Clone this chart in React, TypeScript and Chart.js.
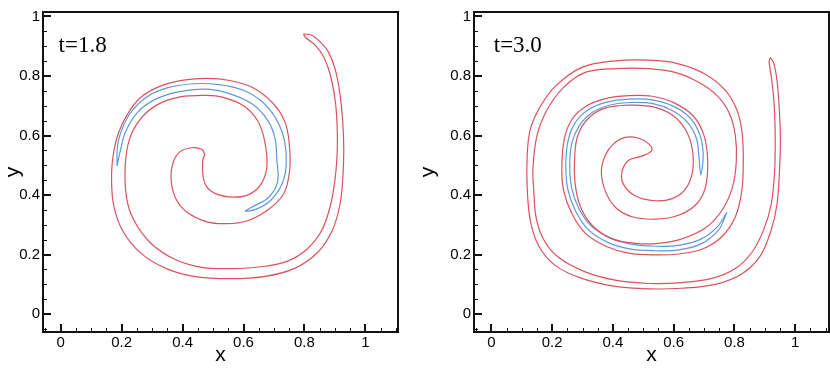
import React, { useEffect, useRef } from 'react';
import { Chart, registerables } from 'chart.js';

Chart.register(...registerables);

// ---------- data ----------
type Pt = [number, number];

const majorTicks = [0, 0.2, 0.4, 0.6, 0.8, 1];
const minorTicks = [-0.05, 0.05, 0.1, 0.15, 0.25, 0.3, 0.35, 0.45, 0.5, 0.55, 0.65, 0.7, 0.75, 0.85, 0.9, 0.95, 1.05, 1.1];

const panelTitles = ['t=1.8', 't=3.0'];

// t = 1.8, red interface contour (closed thin filament)
const red18: Pt[] = [
  [0.797, 0.941], [0.824, 0.937], [0.851, 0.915], [0.878, 0.882], [0.901, 0.822], [0.917, 0.736],
  [0.926, 0.64], [0.929, 0.55], [0.926, 0.46], [0.917, 0.37], [0.892, 0.283], [0.843, 0.207],
  [0.766, 0.153], [0.666, 0.126], [0.556, 0.119], [0.447, 0.125], [0.349, 0.152], [0.263, 0.205],
  [0.203, 0.281], [0.173, 0.37], [0.167, 0.47], [0.175, 0.55], [0.19, 0.61], [0.218, 0.67],
  [0.261, 0.727], [0.327, 0.766], [0.403, 0.786], [0.48, 0.792], [0.555, 0.785], [0.628, 0.762],
  [0.695, 0.71], [0.735, 0.648], [0.75, 0.575], [0.751, 0.479], [0.731, 0.403], [0.677, 0.348],
  [0.611, 0.313], [0.545, 0.304], [0.48, 0.31], [0.414, 0.343], [0.376, 0.392], [0.362, 0.458],
  [0.37, 0.512], [0.392, 0.546], [0.431, 0.559], [0.462, 0.554], [0.472, 0.537],
  [0.466, 0.515], [0.467, 0.465], [0.478, 0.43], [0.508, 0.405], [0.567, 0.393], [0.622, 0.404],
  [0.66, 0.441], [0.677, 0.501], [0.668, 0.588], [0.645, 0.652], [0.6, 0.7], [0.534, 0.728],
  [0.48, 0.735], [0.392, 0.73], [0.316, 0.703], [0.261, 0.654], [0.226, 0.588], [0.212, 0.5],
  [0.216, 0.392], [0.24, 0.316], [0.294, 0.24], [0.371, 0.186], [0.458, 0.158], [0.556, 0.153],
  [0.666, 0.16], [0.745, 0.178], [0.808, 0.218], [0.856, 0.28], [0.884, 0.36], [0.9, 0.45],
  [0.908, 0.566], [0.903, 0.7], [0.886, 0.8], [0.862, 0.866], [0.835, 0.904], [0.802, 0.931],
  [0.797, 0.941],
];

// t = 1.8, blue contour
const blue18: Pt[] = [
  [0.185, 0.498], [0.186, 0.56], [0.197, 0.61], [0.226, 0.672], [0.28, 0.728], [0.349, 0.76],
  [0.436, 0.774], [0.52, 0.771], [0.6, 0.752], [0.665, 0.71], [0.71, 0.65], [0.735, 0.58],
  [0.74, 0.501], [0.726, 0.436], [0.688, 0.381], [0.64, 0.352], [0.606, 0.346],
  [0.627, 0.359], [0.682, 0.392], [0.712, 0.446], [0.709, 0.523], [0.704, 0.588], [0.68, 0.65],
  [0.63, 0.705], [0.556, 0.74], [0.48, 0.756], [0.382, 0.746], [0.305, 0.719], [0.25, 0.675],
  [0.212, 0.61], [0.196, 0.55], [0.185, 0.498],
];

// t = 3.0, red interface contour
const red30: Pt[] = [
  [0.918, 0.862], [0.929, 0.844], [0.94, 0.784], [0.947, 0.697], [0.951, 0.588], [0.948, 0.479],
  [0.94, 0.37], [0.921, 0.283], [0.885, 0.196], [0.825, 0.136], [0.737, 0.1], [0.627, 0.087],
  [0.518, 0.085], [0.408, 0.093], [0.298, 0.12], [0.211, 0.163], [0.156, 0.229], [0.128, 0.316],
  [0.118, 0.425], [0.118, 0.534], [0.128, 0.62], [0.161, 0.697], [0.211, 0.766], [0.298, 0.829],
  [0.408, 0.851], [0.518, 0.853], [0.616, 0.841], [0.704, 0.806], [0.77, 0.752], [0.808, 0.686],
  [0.825, 0.61], [0.829, 0.512], [0.824, 0.414], [0.803, 0.327], [0.759, 0.261], [0.693, 0.218],
  [0.616, 0.202], [0.539, 0.199], [0.452, 0.205], [0.375, 0.229], [0.309, 0.272], [0.265, 0.338],
  [0.238, 0.414], [0.232, 0.49], [0.24, 0.588], [0.265, 0.654], [0.309, 0.697], [0.375, 0.724],
  [0.452, 0.734], [0.529, 0.732], [0.605, 0.708], [0.666, 0.664], [0.7, 0.599], [0.712, 0.512],
  [0.704, 0.425], [0.675, 0.37], [0.616, 0.332], [0.539, 0.319], [0.463, 0.327], [0.408, 0.359],
  [0.375, 0.414], [0.362, 0.479], [0.375, 0.534], [0.402, 0.572], [0.441, 0.594], [0.485, 0.591],
  [0.518, 0.572], [0.528, 0.55],
  [0.496, 0.531], [0.452, 0.517], [0.43, 0.479], [0.435, 0.436], [0.474, 0.397], [0.539, 0.381],
  [0.595, 0.388], [0.638, 0.419], [0.662, 0.479], [0.661, 0.556], [0.638, 0.621], [0.594, 0.67],
  [0.529, 0.697], [0.452, 0.702], [0.375, 0.692], [0.32, 0.659], [0.284, 0.599], [0.274, 0.523],
  [0.276, 0.436], [0.294, 0.359], [0.333, 0.297], [0.397, 0.253], [0.474, 0.238], [0.55, 0.238],
  [0.627, 0.253], [0.704, 0.289], [0.759, 0.349], [0.793, 0.425], [0.806, 0.512], [0.803, 0.599],
  [0.783, 0.675], [0.742, 0.735], [0.682, 0.779], [0.605, 0.812], [0.518, 0.825], [0.408, 0.825],
  [0.309, 0.812], [0.238, 0.762], [0.183, 0.686], [0.15, 0.599], [0.137, 0.49], [0.139, 0.425],
  [0.147, 0.327], [0.172, 0.251], [0.221, 0.191], [0.309, 0.142], [0.408, 0.114], [0.518, 0.103],
  [0.627, 0.106], [0.726, 0.12], [0.803, 0.153], [0.857, 0.207], [0.896, 0.283], [0.921, 0.37],
  [0.932, 0.479], [0.934, 0.588], [0.931, 0.697], [0.923, 0.784], [0.914, 0.85], [0.918, 0.862],
];

// t = 3.0, blue contour
const blue30: Pt[] = [
  [0.775, 0.342], [0.748, 0.283], [0.69, 0.236], [0.616, 0.216], [0.539, 0.213], [0.455, 0.219],
  [0.383, 0.241], [0.32, 0.283], [0.278, 0.345], [0.252, 0.418], [0.245, 0.501], [0.253, 0.585],
  [0.277, 0.645], [0.318, 0.686], [0.38, 0.712], [0.454, 0.722], [0.529, 0.72], [0.6, 0.698],
  [0.655, 0.658], [0.688, 0.597], [0.697, 0.53], [0.689, 0.468],
  [0.683, 0.53], [0.675, 0.59], [0.645, 0.645], [0.595, 0.684], [0.529, 0.708], [0.454, 0.711],
  [0.385, 0.701], [0.327, 0.674], [0.288, 0.63], [0.265, 0.575], [0.258, 0.501], [0.264, 0.425],
  [0.288, 0.355], [0.328, 0.297], [0.39, 0.257], [0.46, 0.235], [0.539, 0.228], [0.62, 0.232],
  [0.69, 0.252], [0.745, 0.295], [0.775, 0.342],
];

const RED = 'rgb(218, 82, 94)';
const BLUE = 'rgb(96, 152, 220)';

type PanelProps = {
  red: Pt[];
  blue: Pt[];
  title: string;
  titleX: number;
  titleY: number;
  xMin: number;
  xMax: number;
  yMin: number;
  yMax: number;
  yAxisWidth: number;
  padRight: number;
  left: number;
};

function Panel(p: PanelProps) {
  const ref = useRef<HTMLCanvasElement>(null);

  useEffect(() => {
    if (!ref.current) return;
    const framePlugin = {
      id: 'tecFrame',
      afterDatasetsDraw(chart: any) {
        const { ctx, chartArea: a, scales } = chart;
        const xs = scales.x;
        const ys = scales.y;
        ctx.save();
        ctx.strokeStyle = '#111';
        // minor ticks (inward)
        ctx.lineWidth = 1;
        ctx.beginPath();
        for (const v of minorTicks) {
          if (v > xs.min && v < xs.max) {
            const px = Math.round(xs.getPixelForValue(v)) + 0.5;
            ctx.moveTo(px, a.bottom);
            ctx.lineTo(px, a.bottom - 4);
          }
          if (v > ys.min && v < ys.max) {
            const py = Math.round(ys.getPixelForValue(v)) + 0.5;
            ctx.moveTo(a.left, py);
            ctx.lineTo(a.left + 4, py);
          }
        }
        ctx.stroke();
        // major ticks
        ctx.lineWidth = 2;
        ctx.beginPath();
        for (const v of majorTicks) {
          const px = Math.round(xs.getPixelForValue(v));
          ctx.moveTo(px, a.bottom);
          ctx.lineTo(px, a.bottom - 8);
          const py = Math.round(ys.getPixelForValue(v));
          ctx.moveTo(a.left, py);
          ctx.lineTo(a.left + 8, py);
        }
        ctx.stroke();
        // frame
        ctx.lineWidth = 2;
        ctx.strokeRect(a.left, a.top, a.right - a.left, a.bottom - a.top);
        // time label
        ctx.fillStyle = '#000';
        ctx.font = "23px 'Liberation Serif'";
        ctx.textBaseline = 'alphabetic';
        ctx.textAlign = 'left';
        ctx.fillText(p.title, xs.getPixelForValue(p.titleX), ys.getPixelForValue(p.titleY));
        ctx.restore();
      },
    };

    const mk = (pts: Pt[], color: string) => ({
      data: pts.map(([x, y]) => ({ x, y })),
      showLine: true,
      borderColor: color,
      backgroundColor: color,
      borderWidth: 1.2,
      pointRadius: 0,
      tension: 0.35,
      fill: false,
    });

    const tickFont = { family: "'Liberation Sans', Arial, sans-serif", size: 15 };
    const titleFont = { family: "'Liberation Sans', Arial, sans-serif", size: 21 };

    const chart = new Chart(ref.current, {
      type: 'scatter',
      data: { datasets: [mk(p.red, RED), mk(p.blue, BLUE)] as any },
      plugins: [framePlugin],
      options: {
        animation: false,
        responsive: false,
        devicePixelRatio: 1,
        events: [],
        layout: { padding: { top: 3, right: p.padRight, bottom: 0, left: 0 } },
        plugins: { legend: { display: false }, tooltip: { enabled: false } },
        scales: {
          x: {
            type: 'linear',
            min: p.xMin,
            max: p.xMax,
            afterBuildTicks: (s: any) => {
              s.ticks = majorTicks.map((v) => ({ value: v }));
            },
            afterFit: (s: any) => {
              s.height = 39;
            },
            grid: { display: false, drawTicks: false },
            border: { display: false },
            ticks: {
              padding: 2,
              color: '#000',
              font: tickFont,
              maxRotation: 0,
              autoSkip: false,
              callback: (v: any) => String(Number(v)),
            },
            title: { display: true, text: 'x', color: '#000', font: titleFont, padding: { top: 0, bottom: 3 } },
          },
          y: {
            type: 'linear',
            min: p.yMin,
            max: p.yMax,
            afterBuildTicks: (s: any) => {
              s.ticks = majorTicks.map((v) => ({ value: v }));
            },
            afterFit: (s: any) => {
              s.width = p.yAxisWidth;
            },
            grid: { display: false, drawTicks: false },
            border: { display: false },
            ticks: {
              padding: 3,
              color: '#000',
              font: tickFont,
              autoSkip: false,
              callback: (v: any) => String(Number(v)),
            },
            title: { display: true, text: 'y', color: '#000', font: titleFont, padding: { top: 1, bottom: 0 } },
          },
        },
      } as any,
    });
    return () => chart.destroy();
  }, []);

  return (
    <div style={{ position: 'absolute', left: p.left, top: 0, width: 415, height: 371 }}>
      <canvas ref={ref} width={415} height={371} style={{ display: 'block' }} />
    </div>
  );
}

export default function App() {
  return (
    <div style={{ position: 'absolute', left: 0, top: 0, width: 830, height: 371, background: '#fff' }}>
      <Panel
        red={red18}
        blue={blue18}
        title={panelTitles[0]}
        titleX={-0.007}
        titleY={0.879}
        xMin={-0.058}
        xMax={1.107}
        yMin={-0.06}
        yMax={1.015}
        yAxisWidth={43}
        padRight={17}
        left={0}
      />
      <Panel
        red={red30}
        blue={blue30}
        title={panelTitles[1]}
        titleX={0.008}
        titleY={0.879}
        xMin={-0.057}
        xMax={1.111}
        yMin={-0.06}
        yMax={1.015}
        yAxisWidth={59}
        padRight={1}
        left={415}
      />
    </div>
  );
}
